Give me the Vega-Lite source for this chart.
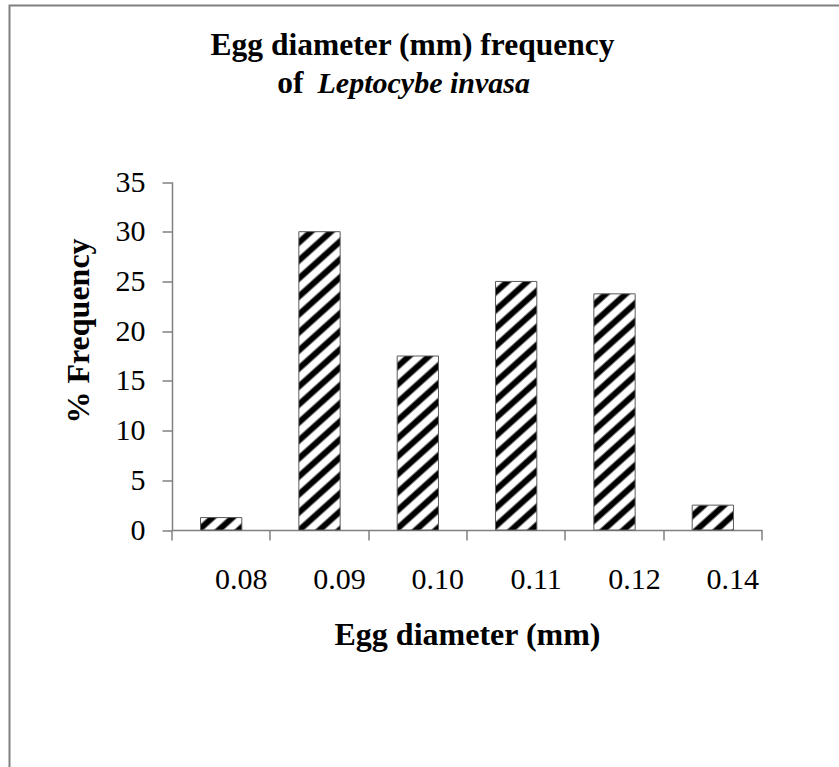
{
  "$schema": "https://vega.github.io/schema/vega-lite/v6.json",
  "width": 840,
  "height": 765,
  "autosize": {"type": "none"},
  "padding": {"left": 9.5, "top": 5.5, "right": -10.5, "bottom": -3.5},
  "background": "white",
  "title": {
    "text": ["Egg diameter (mm) frequency", "of\u00a0\u00a0\u00a0\u00a0\u00a0\u00a0\u00a0\u00a0\u00a0\u00a0\u00a0\u00a0\u00a0\u00a0\u00a0\u00a0\u00a0\u00a0\u00a0\u00a0\u00a0\u00a0\u00a0\u00a0\u00a0\u00a0\u00a0\u00a0\u00a0\u00a0\u00a0\u200b"],
    "subtitle": "\u200b\u00a0\u00a0\u00a0Leptocybe invasa",
    "anchor": "middle",
    "frame": "group",
    "dx": -17,
    "offset": -94,
    "font": "Liberation Serif",
    "fontSize": 31.5,
    "fontWeight": "bold",
    "color": "black",
    "lineHeight": 38,
    "subtitleFont": "Liberation Serif",
    "subtitleFontSize": 30,
    "subtitleFontWeight": "bold",
    "subtitleFontStyle": "italic",
    "subtitleColor": "black",
    "subtitlePadding": -31
  },
  "params": [
    {"name": "stripeStops", "value": [
      {"offset": 0, "color": "#ffffff"},
      {"offset": 0.0136, "color": "#ffffff"}, {"offset": 0.0205, "color": "#000000"}, {"offset": 0.0341, "color": "#000000"}, {"offset": 0.0409, "color": "#ffffff"},
      {"offset": 0.0591, "color": "#ffffff"}, {"offset": 0.0659, "color": "#000000"}, {"offset": 0.0795, "color": "#000000"}, {"offset": 0.0864, "color": "#ffffff"},
      {"offset": 0.1045, "color": "#ffffff"}, {"offset": 0.1114, "color": "#000000"}, {"offset": 0.1250, "color": "#000000"}, {"offset": 0.1318, "color": "#ffffff"},
      {"offset": 0.1500, "color": "#ffffff"}, {"offset": 0.1568, "color": "#000000"}, {"offset": 0.1705, "color": "#000000"}, {"offset": 0.1773, "color": "#ffffff"},
      {"offset": 0.1955, "color": "#ffffff"}, {"offset": 0.2023, "color": "#000000"}, {"offset": 0.2159, "color": "#000000"}, {"offset": 0.2227, "color": "#ffffff"},
      {"offset": 0.2409, "color": "#ffffff"}, {"offset": 0.2477, "color": "#000000"}, {"offset": 0.2614, "color": "#000000"}, {"offset": 0.2682, "color": "#ffffff"},
      {"offset": 0.2864, "color": "#ffffff"}, {"offset": 0.2932, "color": "#000000"}, {"offset": 0.3068, "color": "#000000"}, {"offset": 0.3136, "color": "#ffffff"},
      {"offset": 0.3318, "color": "#ffffff"}, {"offset": 0.3386, "color": "#000000"}, {"offset": 0.3523, "color": "#000000"}, {"offset": 0.3591, "color": "#ffffff"},
      {"offset": 0.3773, "color": "#ffffff"}, {"offset": 0.3841, "color": "#000000"}, {"offset": 0.3977, "color": "#000000"}, {"offset": 0.4045, "color": "#ffffff"},
      {"offset": 0.4227, "color": "#ffffff"}, {"offset": 0.4295, "color": "#000000"}, {"offset": 0.4432, "color": "#000000"}, {"offset": 0.4500, "color": "#ffffff"},
      {"offset": 0.4682, "color": "#ffffff"}, {"offset": 0.4750, "color": "#000000"}, {"offset": 0.4886, "color": "#000000"}, {"offset": 0.4955, "color": "#ffffff"},
      {"offset": 0.5136, "color": "#ffffff"}, {"offset": 0.5205, "color": "#000000"}, {"offset": 0.5341, "color": "#000000"}, {"offset": 0.5409, "color": "#ffffff"},
      {"offset": 0.5591, "color": "#ffffff"}, {"offset": 0.5659, "color": "#000000"}, {"offset": 0.5795, "color": "#000000"}, {"offset": 0.5864, "color": "#ffffff"},
      {"offset": 0.6045, "color": "#ffffff"}, {"offset": 0.6114, "color": "#000000"}, {"offset": 0.6250, "color": "#000000"}, {"offset": 0.6318, "color": "#ffffff"},
      {"offset": 0.6500, "color": "#ffffff"}, {"offset": 0.6568, "color": "#000000"}, {"offset": 0.6705, "color": "#000000"}, {"offset": 0.6773, "color": "#ffffff"},
      {"offset": 0.6955, "color": "#ffffff"}, {"offset": 0.7023, "color": "#000000"}, {"offset": 0.7159, "color": "#000000"}, {"offset": 0.7227, "color": "#ffffff"},
      {"offset": 0.7409, "color": "#ffffff"}, {"offset": 0.7477, "color": "#000000"}, {"offset": 0.7614, "color": "#000000"}, {"offset": 0.7682, "color": "#ffffff"},
      {"offset": 0.7864, "color": "#ffffff"}, {"offset": 0.7932, "color": "#000000"}, {"offset": 0.8068, "color": "#000000"}, {"offset": 0.8136, "color": "#ffffff"},
      {"offset": 0.8318, "color": "#ffffff"}, {"offset": 0.8386, "color": "#000000"}, {"offset": 0.8523, "color": "#000000"}, {"offset": 0.8591, "color": "#ffffff"},
      {"offset": 0.8773, "color": "#ffffff"}, {"offset": 0.8841, "color": "#000000"}, {"offset": 0.8977, "color": "#000000"}, {"offset": 0.9045, "color": "#ffffff"},
      {"offset": 0.9227, "color": "#ffffff"}, {"offset": 0.9295, "color": "#000000"}, {"offset": 0.9432, "color": "#000000"}, {"offset": 0.9500, "color": "#ffffff"},
      {"offset": 0.9682, "color": "#ffffff"}, {"offset": 0.9750, "color": "#000000"}, {"offset": 0.9886, "color": "#000000"}, {"offset": 0.9955, "color": "#ffffff"},
      {"offset": 1, "color": "#ffffff"}
    ]}
  ],
  "data": {
    "values": [
      {"diameter": "0.08", "freq": 1.25},
      {"diameter": "0.09", "freq": 30},
      {"diameter": "0.10", "freq": 17.5},
      {"diameter": "0.11", "freq": 25},
      {"diameter": "0.12", "freq": 23.75},
      {"diameter": "0.14", "freq": 2.5}
    ]
  },
  "mark": {"type": "bar", "stroke": "#5a5a5a", "strokeWidth": 1, "width": {"band": 0.42}},
  "encoding": {
    "x": {
      "field": "diameter",
      "type": "ordinal",
      "sort": null,
      "scale": {"range": [162.5, 752.5], "paddingInner": 0, "paddingOuter": 0},
      "axis": {
        "offset": -240.5,
        "bandPosition": 1,
        "tickExtra": true,
        "domainColor": "#808080",
        "domainWidth": 1.5,
        "tickColor": "#808080",
        "tickWidth": 1.5,
        "tickSize": 10,
        "labelFont": "Liberation Serif",
        "labelFontSize": 30,
        "labelColor": "black",
        "labelAngle": 0,
        "labelPadding": 24,
        "labelOffset": 20,
        "title": "Egg diameter (mm)",
        "titleFont": "Liberation Serif",
        "titleFontSize": 32,
        "titleFontWeight": "bold",
        "titleColor": "black",
        "titlePadding": 25
      }
    },
    "y": {
      "field": "freq",
      "type": "quantitative",
      "scale": {"domain": [0, 35], "range": [524.5, 176.5], "nice": false, "zero": true},
      "axis": {
        "offset": -162.5,
        "values": [0, 5, 10, 15, 20, 25, 30, 35],
        "grid": false,
        "domainColor": "#808080",
        "domainWidth": 1.5,
        "tickColor": "#808080",
        "tickWidth": 1.5,
        "tickSize": 10,
        "labelFont": "Liberation Serif",
        "labelFontSize": 30,
        "labelColor": "black",
        "labelPadding": 17,
        "title": "% Frequency",
        "titleFont": "Liberation Serif",
        "titleFontSize": 32,
        "titleFontWeight": "bold",
        "titleColor": "black",
        "titlePadding": 20,
        "titleY": 325
      }
    },
    "fill": {"value": {"expr": "{gradient: 'linear', x1: 0, y1: 0, x2: (0.378*bandwidth('x')/396)/(pow(0.378*bandwidth('x')/396, 2) + pow((scale('y', 0) - scale('y', datum.freq))/396, 2)), y2: ((scale('y', 0) - scale('y', datum.freq))/396)/(pow(0.378*bandwidth('x')/396, 2) + pow((scale('y', 0) - scale('y', datum.freq))/396, 2)), stops: stripeStops}"}}
  },
  "config": {
    "font": "Liberation Serif",
    "view": {"stroke": "#808080", "strokeWidth": 2}
  }
}
